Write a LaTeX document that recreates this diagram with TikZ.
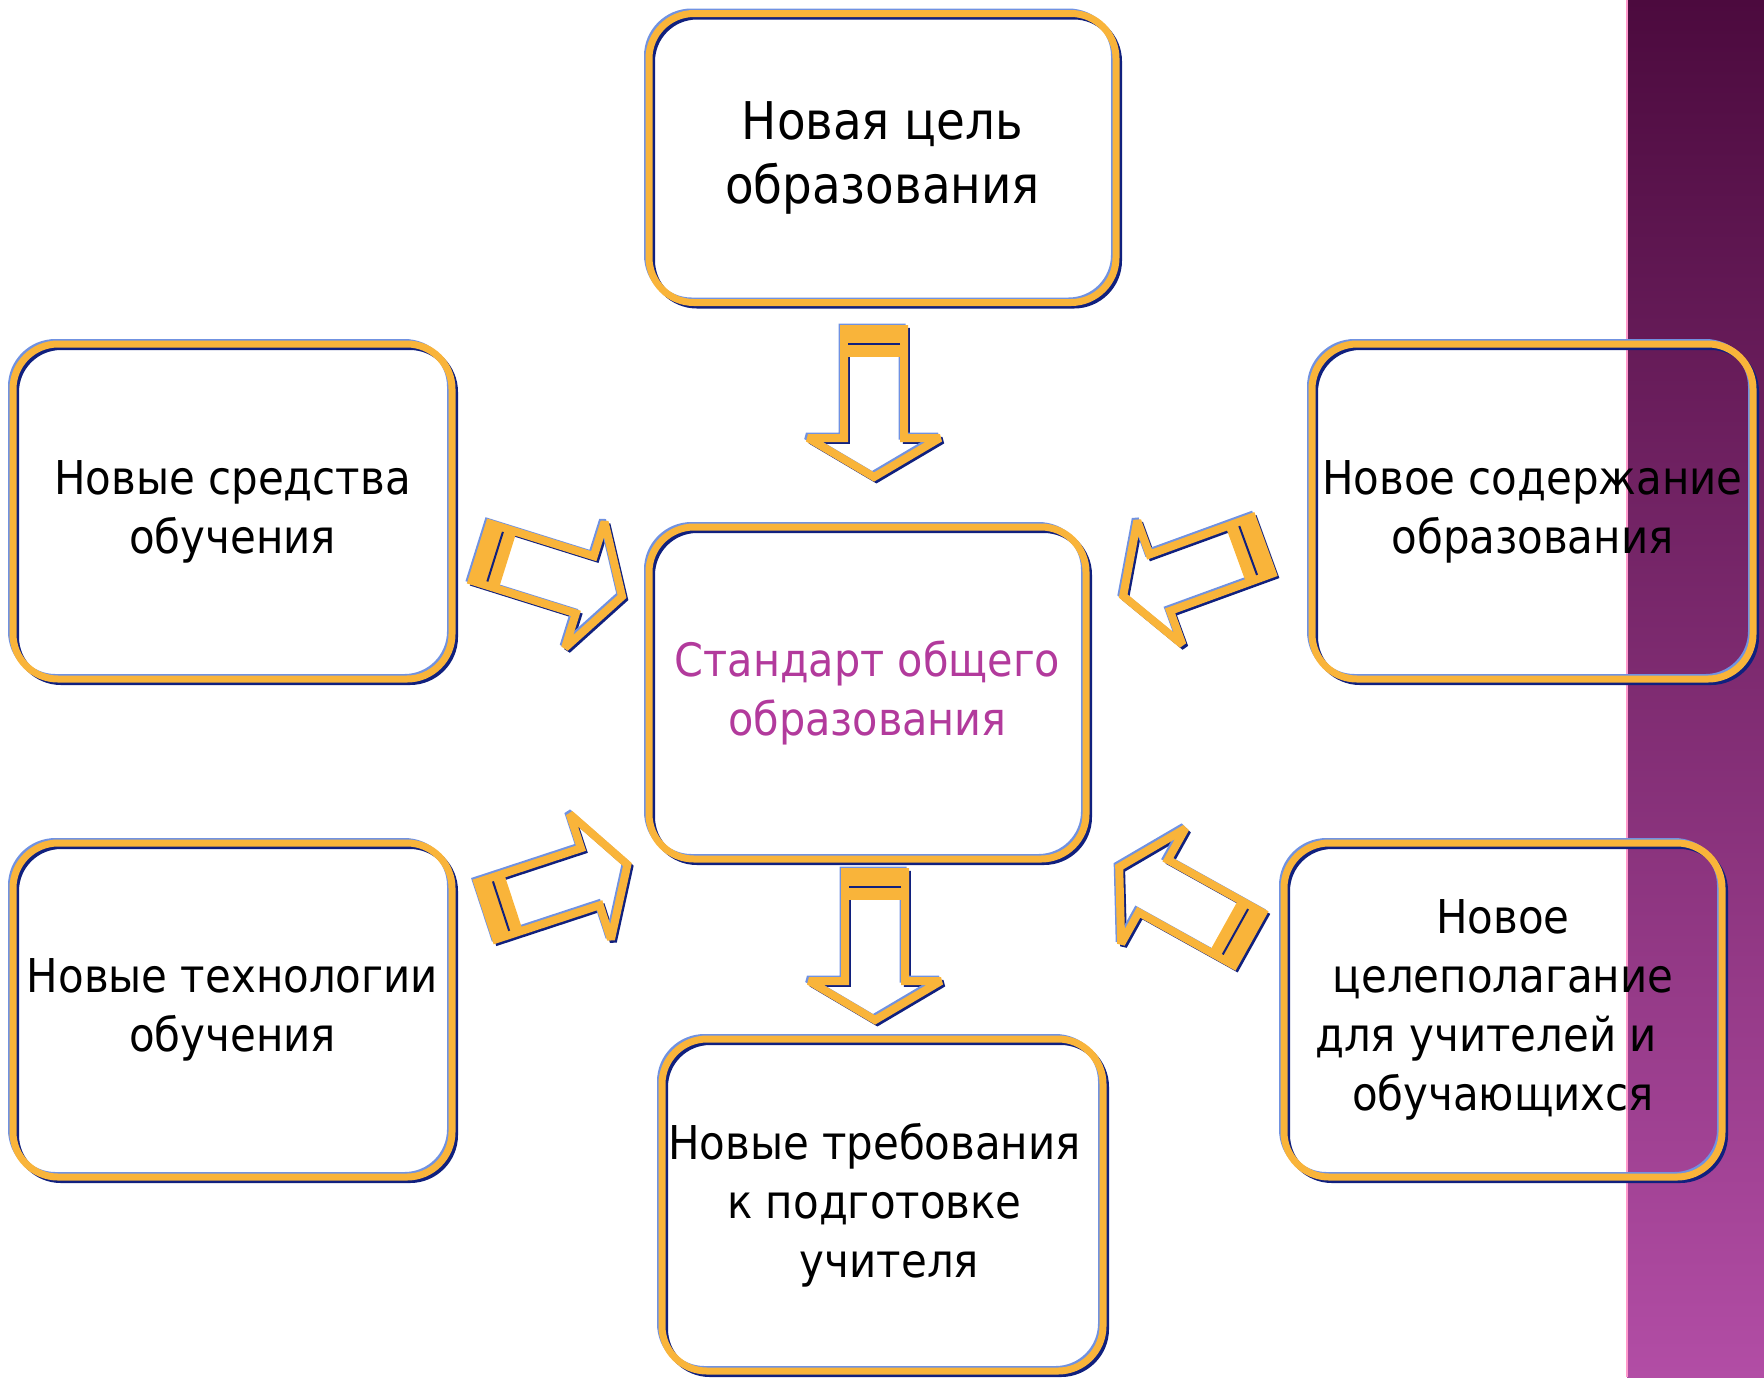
\documentclass[tikz,border=0pt]{standalone}
\usepackage{fontspec}
\setmainfont{DejaVu Sans Condensed}
\usepackage{tikz}
\usetikzlibrary{arrows.meta}
\usepackage{xcolor}

\definecolor{rimorange}{HTML}{F9B43A}
\definecolor{rimblue}{HTML}{7092E2}
\definecolor{rimnavy}{HTML}{10207E}
\definecolor{stripetop}{HTML}{4C0A3E}
\definecolor{stripemid}{HTML}{75296A}
\definecolor{stripebot}{HTML}{B24DA5}
\definecolor{titlepink}{HTML}{B23A9C}

\tikzset{
  rim/.style={rounded corners=22.5pt, inner sep=0pt, align=center,
    font=\fontsize{23.3}{29.5}\selectfont,
    preaction={draw=rimnavy, line width=3pt, transform canvas={shift={(1.5pt,-1.5pt)}}},
    preaction={draw=rimblue, line width=2.5pt, transform canvas={shift={(-1.25pt,1.25pt)}}},
    draw=rimorange, line width=3.5pt},
  blockarrow/.pic={
    \draw[rimnavy, line width=3.5pt, miter limit=2, transform canvas={shift={(1.2pt,-1.2pt)}}]
      (4,-30) -- (113,-30) -- (113,-66) -- (152,0) -- (113,66) -- (113,30) -- (4,30) -- cycle;
    \draw[rimblue, line width=3.5pt, miter limit=2, transform canvas={shift={(-1pt,1pt)}}]
      (4,-30) -- (113,-30) -- (113,-66) -- (152,0) -- (113,66) -- (113,30) -- (4,30) -- cycle;
    \fill[rimorange] (4,-30) rectangle (32,30);
    \draw[rimorange, line width=4pt, miter limit=2]
      (4,-30) -- (113,-30) -- (113,-66) -- (152,0) -- (113,66) -- (113,30) -- (4,30) -- cycle;
    \draw[rimnavy, line width=1pt] (19,-26) -- (19,26);
  }
}

\begin{document}
\begin{tikzpicture}[x=0.5pt, y=-0.5pt]

        \useasboundingbox (0,0) rectangle (1764,1377);

        % purple strip on the right
        \shade[top color=stripetop, middle color=stripemid, bottom color=stripebot] (1627,0) rectangle (1764,1377);
        \draw[pink!80!magenta, line width=0.6pt] (1627,0) -- (1627,1377);

        \node[rim, minimum width=233.5pt, minimum height=144.5pt, font=\fontsize{26}{32}\selectfont] (goal) at (882.5,158) {Новая цель\\образования};

        \node[rim, minimum width=218.5pt, minimum height=166pt, text=titlepink, font=\fontsize{23}{29.5}\selectfont] (standard) at (867.5,693) {Стандарт общего\\образования};

        \node[rim, minimum width=219.5pt, minimum height=167.5pt] (means) at (232.5,511.5) {Новые средства\\обучения};

        \node[rim, minimum width=219.5pt, minimum height=167pt] (techs) at (232.5,1010) {Новые технологии\\обучения};

        \node[rim, minimum width=220.5pt, minimum height=167.5pt] (content) at (1532.5,511.5) {Новое содержание\\образования};

        \node[rim, minimum width=219pt, minimum height=167pt] (aims) at (1503,1010) {Новое\\целеполагание\\для учителей и\kern17pt\\обучающихся};

        \node[rim, minimum width=220.5pt, minimum height=166pt] (training) at (882.5,1205) {Новые требования\kern8pt\\к подготовке\kern8pt\\\kern7pt учителя};

        \pic[rotate=-90] at (874,325) {blockarrow};
        \pic[rotate=-90] at (875,868) {blockarrow};
        \pic[rotate=-17.4] at (477,551) {blockarrow};
        \pic[rotate=200] at (1266,544) {blockarrow};
        \pic[rotate=18.2] at (483,912) {blockarrow};
        \pic[rotate=150.9] at (1252,941) {blockarrow};

    \end{tikzpicture}
\end{document}
